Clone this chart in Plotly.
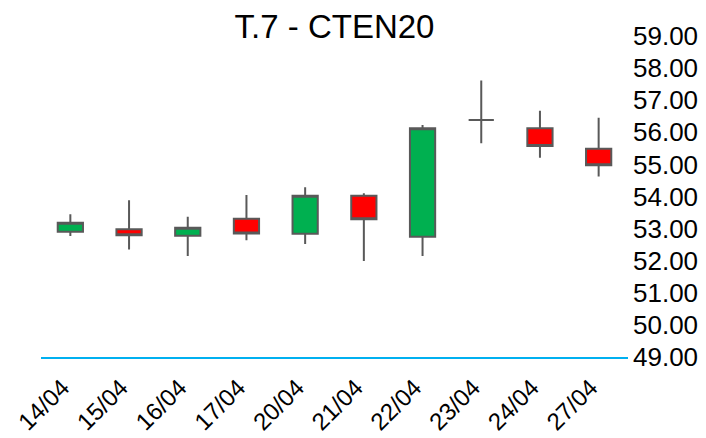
import plotly.graph_objects as go

dates = ["14/04", "15/04", "16/04", "17/04", "20/04", "21/04", "22/04", "23/04", "24/04", "27/04"]
open_ = [52.90, 52.98, 52.78, 53.31, 52.84, 54.02, 52.75, 56.38, 56.13, 55.49]
high = [53.45, 53.88, 53.37, 54.05, 54.29, 54.10, 56.23, 57.61, 56.67, 56.45]
low = [52.77, 52.35, 52.15, 52.64, 52.52, 51.99, 52.15, 55.66, 55.21, 54.62]
close = [53.18, 52.79, 53.03, 52.85, 54.02, 53.29, 56.13, 56.38, 55.57, 54.97]
y_ticks = [49, 50, 51, 52, 53, 54, 55, 56, 57, 58, 59]

FONT = "Liberation Sans, Arial, sans-serif"
OFF = 8  # page body margin

fig = go.Figure(
    go.Candlestick(
        x=dates, open=open_, high=high, low=low, close=close,
        increasing=dict(fillcolor="#00B050", line=dict(color="#595959", width=2)),
        decreasing=dict(fillcolor="#FF0000", line=dict(color="#595959", width=2)),
        whiskerwidth=0,
        showlegend=False,
    )
)

fig.update_layout(
    width=706, height=438,
    margin=dict(l=41 - OFF, r=78 + OFF, t=36 - OFF, b=81 + OFF),
    paper_bgcolor="white", plot_bgcolor="white",
    boxgap=0.57, boxgroupgap=0,
    title=dict(text="T.7 - CTEN20", x=0.5, xref="paper", xanchor="center",
               y=1 - (26 - OFF) / 438, yref="container", yanchor="middle",
               font=dict(family=FONT, size=33, color="black")),
    xaxis=dict(type="category", rangeslider=dict(visible=False),
               range=[-0.5, len(dates) - 0.5], automargin=False,
               showgrid=False, zeroline=False,
               showline=True, linecolor="#00B0F0", linewidth=2,
               ticks="", tickangle=-45, ticklabelshift=-8, ticklabelstandoff=5,
               tickfont=dict(family=FONT, size=24, color="black")),
    yaxis=dict(side="right", range=[49, 59], tickvals=y_ticks, automargin=False,
               ticktext=[f"{v:.2f}" for v in y_ticks], ticklabelstandoff=4,
               showgrid=False, zeroline=False, showline=False,
               ticks="", tickfont=dict(family=FONT, size=26, color="black")),
)

fig.write_html("out.html")
